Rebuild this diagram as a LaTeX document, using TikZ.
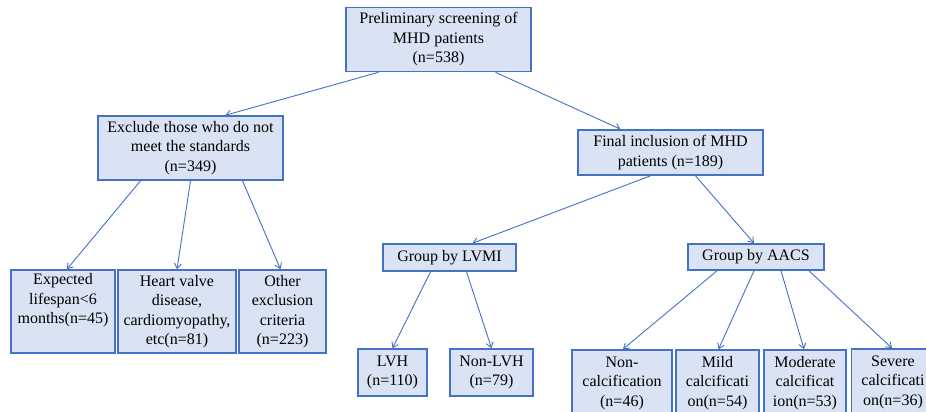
\documentclass[tikz,border=0pt]{standalone}
\usepackage{fontspec}
\setmainfont{Liberation Serif}
\usepackage{xcolor}
\usepackage{tikz}
\usetikzlibrary{arrows.meta}
\definecolor{boxfill}{HTML}{DAE3F3}
\definecolor{boxline}{HTML}{4472C4}

\begin{document}
\begin{tikzpicture}[
    x = 1pt, y = -1pt,
    box/.style = {rectangle, draw=boxline, line width=1.6pt,
                  fill=boxfill, align=center, inner sep=0pt,
                  font=\fontsize{16}{19.5}\selectfont},
    arrow/.style = {-{Straight Barb[length=5pt,width=7pt]}, boxline, line width=0.9pt}
  ]
    \path[use as bounding box, fill=white] (0,0) rectangle (926,412);
    % top levels
    \node[box, minimum width=185pt, minimum height=64pt] (pre) at (438.5,39.5)
        {Preliminary screening of \\ MHD patients \\ (n=538)};
    \node[box, minimum width=185pt, minimum height=64pt] (excl) at (190.5,148)
        {Exclude those who do not \\ meet the standards \\ (n=349)};
    \node[box, minimum width=185pt, minimum height=45pt] (final) at (670.5,152.5)
        {Final inclusion of MHD \\ patients (n=189)};
    \node[box, minimum width=133pt, minimum height=27pt] (lvmi) at (449.5,257.5) {Group by LVMI};
    \node[box, minimum width=136pt, minimum height=26pt] (aacs) at (756,257) {Group by AACS};
    % exclusion reasons
    \node[box, minimum width=104pt, minimum height=83pt] (life) at (63,311.5)
        {Expected \\ lifespan<6 \\ months(n=45) \\ \strut};
    \node[box, minimum width=118pt, minimum height=83pt] (valve) at (177,311.5)
        {Heart valve \\ disease, \\ cardiomyopathy, \\ etc(n=81)};
    \node[box, minimum width=87pt, minimum height=83pt] (other) at (282.5,311.5)
        {Other \\ exclusion \\ criteria \\ (n=223)};
    % LVMI groups
    \node[box, minimum width=69pt, minimum height=47pt] (lvh) at (392.5,372.5) {LVH \\ (n=110)};
    \node[box, minimum width=83pt, minimum height=47pt] (nonlvh) at (491.5,372.5) {Non-LVH \\ (n=79)};
    % AACS groups
    \node[box, minimum width=100pt, minimum height=66pt] (noncalc) at (622,383)
        {Non- \\ calcification \\ (n=46)};
    \node[box, minimum width=83pt, minimum height=66pt] (mild) at (717.5,383)
        {Mild \\ calcificati \\ on(n=54)};
    \node[box, minimum width=82pt, minimum height=66pt] (moder) at (805,383)
        {Moderate \\ calcificat \\ ion(n=53)};
    \node[box, minimum width=83pt, minimum height=66pt] (severe) at (893,382)
        {Severe \\ calcificati \\ on(n=36)};
    \draw[arrow] ([xshift=-60pt]pre.south) -- ([xshift=35pt]excl.north);
    \draw[arrow] ([xshift=57pt]pre.south) -- ([xshift=-50pt]final.north);
    \draw[arrow] ([xshift=-50pt]excl.south) -- ([xshift=4pt]life.north);
    \draw[arrow] ([xshift=0pt]excl.south) -- (valve.north);
    \draw[arrow] ([xshift=52pt]excl.south) -- ([xshift=-2pt]other.north);
    \draw[arrow] ([xshift=-20pt]final.south) -- ([xshift=23pt]lvmi.north);
    \draw[arrow] ([xshift=25pt]final.south) -- ([xshift=-2pt]aacs.north);
    \draw[arrow] ([xshift=-19pt]lvmi.south) -- (lvh.north);
    \draw[arrow] ([xshift=17pt]lvmi.south) -- (nonlvh.north);
    \draw[arrow] ([xshift=-39pt]aacs.south) -- ([xshift=1pt]noncalc.north);
    \draw[arrow] ([xshift=-2pt]aacs.south) -- ([xshift=1pt]mild.north);
    \draw[arrow] ([xshift=25pt]aacs.south) -- ([xshift=-1pt]moder.north);
    \draw[arrow] ([xshift=53pt]aacs.south) -- ([xshift=-1pt]severe.north);
  \end{tikzpicture}
\end{document}
